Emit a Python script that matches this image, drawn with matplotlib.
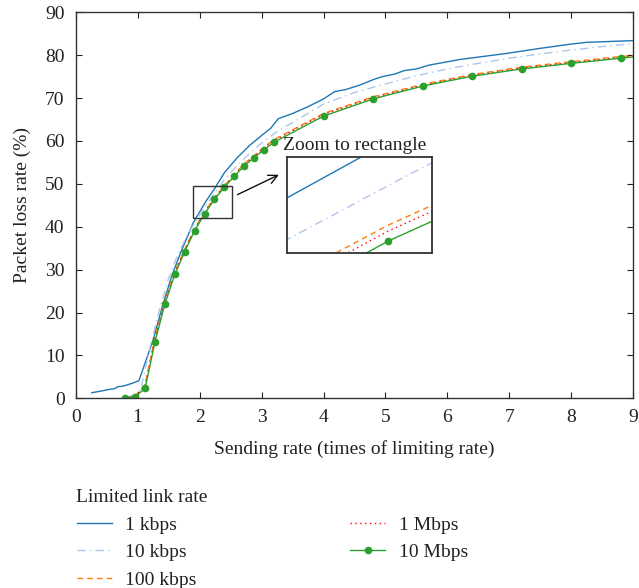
import matplotlib
matplotlib.use("Agg")
import matplotlib.pyplot as plt
from matplotlib.patches import Rectangle

plt.rcParams['font.family'] = ['Liberation Serif', 'DejaVu Serif']
plt.rcParams['mathtext.fontset'] = 'stix'

# ---- data ----
x_1k = [0.26, 0.45, 0.55, 0.62, 0.68, 0.75, 0.85, 0.95, 1.02, 1.25, 1.40, 1.55, 1.70, 1.90,
        2.10, 2.25, 2.40, 2.60, 2.81, 3.02, 3.15, 3.27, 3.50, 3.75, 4.00, 4.18, 4.36, 4.58,
        4.82, 4.95, 5.15, 5.30, 5.50, 5.71, 6.20, 6.95, 7.50, 8.00, 8.25, 9.00]
y_1k = [1.3, 1.8, 2.1, 2.2, 2.7, 2.8, 3.2, 3.7, 4.1, 13.6, 21.5, 28.5, 34.2, 41.0,
        45.9, 49.1, 52.6, 56.0, 59.0, 61.5, 63.0, 65.2, 66.4, 68.0, 69.8, 71.5, 72.0, 73.0,
        74.4, 75.0, 75.6, 76.4, 76.8, 77.7, 79.0, 80.4, 81.6, 82.6, 83.0, 83.4]

x_10k = [0.85, 0.95, 1.05, 1.20, 1.35, 1.50, 1.65, 1.80, 1.95, 2.10, 2.25, 2.40, 2.60, 2.80,
         3.00, 3.25, 3.50, 4.00, 4.50, 5.00, 5.50, 6.00, 6.50, 7.00, 7.50, 8.00, 8.50, 9.00]
y_10k = [0.3, 0.8, 2.0, 12.0, 20.5, 28.0, 33.6, 38.0, 41.6, 44.9, 48.0, 51.0, 54.2, 57.0,
         59.5, 62.2, 64.3, 68.6, 71.3, 73.3, 75.2, 76.8, 78.1, 79.3, 80.3, 81.2, 82.0, 82.7]

x_grid = [0.80, 0.96, 1.12, 1.28, 1.44, 1.60, 1.76, 1.92, 2.08, 2.24, 2.40, 2.56, 2.72, 2.88,
          3.04, 3.20, 4.00, 4.80, 5.60, 6.40, 7.20, 8.00, 8.80, 9.00]
y_100k = [0.0, 0.6, 3.2, 14.2, 22.8, 29.6, 34.8, 39.6, 43.5, 46.8, 49.6, 52.2, 54.7, 56.6,
          58.6, 60.3, 66.4, 70.3, 73.2, 75.5, 77.2, 78.5, 79.7, 79.9]
y_1M = [0.0, 0.5, 2.9, 13.9, 22.5, 29.3, 34.6, 39.4, 43.3, 46.65, 49.45, 52.0, 54.5, 56.4,
        58.4, 60.1, 66.2, 70.1, 73.0, 75.3, 77.0, 78.3, 79.5, 79.8]
y_10M = [0.1, 0.4, 2.3, 13.2, 22.0, 28.9, 34.2, 39.1, 43.0, 46.4, 49.2, 51.8, 54.2, 56.1,
         58.0, 59.7, 65.8, 69.8, 72.8, 75.1, 76.8, 78.1, 79.3, 79.6]

labels = ['1 kbps', '10 kbps', '100 kbps', '1 Mbps', '10 Mbps']
xticks = list(range(0, 10))
yticks = list(range(0, 100, 10))

C_BLUE = '#1f77b4'
C_LBLUE = '#aec7e8'
C_ORANGE = '#ff7f0e'
C_RED = '#ff0000'
C_GREEN = '#2ca02c'
C_TEXT = '#222222'

W, H = 639, 588
fig = plt.figure(figsize=(W / 100, H / 100), dpi=100)
ax = fig.add_axes([75.7 / W, 1 - 398.3 / H, (633.3 - 75.7) / W, (398.3 - 12.3) / H])

def draw(a, lw=1.0):
    h1, = a.plot(x_1k, y_1k, color=C_BLUE, lw=lw, ls='-')
    h2, = a.plot(x_10k, y_10k, color=C_LBLUE, lw=lw, ls=(0, (6, 3, 1, 3)))
    h3, = a.plot(x_grid, y_100k, color=C_ORANGE, lw=lw, ls=(0, (4, 3)))
    h4, = a.plot(x_grid, y_1M, color=C_RED, lw=lw, ls=(0, (1, 2.5)))
    h5, = a.plot(x_grid, y_10M, color=C_GREEN, lw=lw, ls='-', marker='o', ms=4.5,
                 markevery=list(range(len(x_grid) - 1)))
    return [h1, h2, h3, h4, h5]

handles = draw(ax)

ax.set_xlim(0, 9)
ax.set_ylim(0, 90)
ax.set_xticks(xticks)
ax.set_yticks(yticks)
ax.tick_params(direction='in', top=True, right=True, length=4, width=0.8,
               labelsize=14, colors=C_TEXT)
ax.tick_params(axis='x', pad=7.5)
ax.tick_params(axis='y', pad=8)
for s in ax.spines.values():
    s.set_color('#333333')
    s.set_linewidth(1.0)
ax.set_xlabel('Sending rate (times of limiting rate)', fontsize=14, color=C_TEXT, labelpad=10)
ax.set_ylabel('Packet loss rate (%)', fontsize=14, color=C_TEXT, labelpad=10)

# zoom rectangle, arrow and text
ax.add_patch(Rectangle((1.89, 42.0), 0.64, 7.6, fill=False, ec='#333333', lw=1.0, zorder=5))
ax.annotate('', xy=(3.32, 52.4), xytext=(2.57, 47.2),
            arrowprops=dict(arrowstyle='->', color='#111111', lw=1.0, mutation_scale=16))
ax.text(3.34, 59.0, 'Zoom to rectangle', fontsize=14, color=C_TEXT, ha='left', va='center')

# inset
axin = fig.add_axes([287.3 / W, 1 - 253.3 / H, 145 / W, 96.6 / H])
draw(axin)
axin.set_xlim(2.1745, 2.2685)
axin.set_ylim(46.09, 48.52)
axin.set_xticks([])
axin.set_yticks([])
for s in axin.spines.values():
    s.set_color('#333333')
    s.set_linewidth(1.3)

leg = fig.legend(handles, labels, loc='upper left', bbox_to_anchor=(76.5 / W, 1 - 489 / H),
                 ncol=2, frameon=False, fontsize=14, title='Limited link rate',
                 title_fontsize=14, alignment='left', borderpad=0, borderaxespad=0,
                 handlelength=1.8, handletextpad=0.7, columnspacing=7.9, labelspacing=0.51)
for t in leg.get_texts():
    t.set_color(C_TEXT)
leg.get_title().set_color(C_TEXT)

fig.savefig('out.png', dpi=100)
